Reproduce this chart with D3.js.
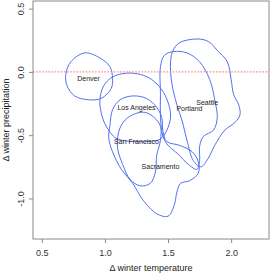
<html>
<head>
  <script src="https://d3js.org/d3.v7.min.js"></script>
  <style>
    body { margin: 0; background: #fff; }
    text { font-family: "Liberation Sans", Arial, sans-serif; }
  </style>
</head>
<body>
<svg id="chart"></svg>
<script>
  const width = 273, height = 275;

  // city names and where R put their labels
  const cities = ["Denver", "Los Angeles", "San Francisco", "Sacramento", "Portland", "Seattle"];
  const labelX = [0.87, 1.25, 1.25, 1.44, 1.67, 1.81];
  const labelY = [-0.05, -0.28, -0.55, -0.75, -0.29, -0.24];

  // contour outlines, [delta temp, delta precip]
  const denver = [[0.84,0.15],[0.96,0.11],[1.04,0.04],[1.06,-0.05],[1.05,-0.13],[0.97,-0.21],
    [0.87,-0.22],[0.76,-0.19],[0.70,-0.11],[0.69,-0.02],[0.73,0.08]];
  const losAngeles = [[1.06,-0.04],[1.17,-0.01],[1.28,-0.02],[1.37,-0.06],[1.45,-0.14],[1.50,-0.24],
    [1.52,-0.34],[1.50,-0.44],[1.44,-0.53],[1.34,-0.55],[1.22,-0.55],[1.10,-0.53],[1.06,-0.50],
    [1.00,-0.41],[0.97,-0.32],[0.96,-0.22],[0.99,-0.11]];
  const sanFrancisco = [[1.10,-0.60],[1.11,-0.47],[1.16,-0.38],[1.24,-0.33],[1.32,-0.32],[1.39,-0.36],
    [1.44,-0.43],[1.44,-0.54],[1.41,-0.66],[1.40,-0.79],[1.36,-0.88],[1.28,-0.90],[1.20,-0.85],[1.14,-0.73]];
  const sacramento = [[1.04,-0.42],[1.06,-0.30],[1.12,-0.22],[1.22,-0.19],[1.33,-0.21],[1.41,-0.28],
    [1.45,-0.36],[1.46,-0.47],[1.49,-0.55],[1.59,-0.58],[1.69,-0.63],[1.74,-0.71],[1.74,-0.80],
    [1.67,-0.86],[1.60,-0.88],[1.57,-0.95],[1.55,-1.05],[1.50,-1.14],[1.41,-1.12],[1.30,-1.01],
    [1.22,-0.88],[1.13,-0.77],[1.06,-0.63],[1.03,-0.52]];
  const portland = [[1.44,0.04],[1.47,0.13],[1.54,0.16],[1.65,0.15],[1.75,0.08],[1.83,-0.06],
    [1.87,-0.22],[1.89,-0.36],[1.86,-0.46],[1.78,-0.51],[1.75,-0.59],[1.75,-0.70],[1.73,-0.77],
    [1.66,-0.73],[1.58,-0.65],[1.50,-0.58],[1.46,-0.51],[1.44,-0.36],[1.44,-0.18]];
  const seattle = [[1.54,0.17],[1.59,0.23],[1.73,0.26],[1.82,0.24],[1.89,0.17],[1.97,0.08],
    [2.00,-0.06],[2.02,-0.18],[2.06,-0.26],[2.07,-0.34],[2.03,-0.40],[1.95,-0.46],[1.87,-0.58],
    [1.82,-0.68],[1.76,-0.75],[1.70,-0.70],[1.65,-0.54],[1.61,-0.38],[1.57,-0.26],[1.53,-0.09],[1.52,0.08]];
  const contours = [denver, losAngeles, sanFrancisco, sacramento, portland, seattle];

  const xTicks = [0.5, 1.0, 1.5, 2.0];
  const yTicks = [-1.0, -0.5, 0.0, 0.5];
  const refLine = 0;

  const margin = {left: 33, right: 4, top: 1, bottom: 36};
  const x = d3.scaleLinear().domain([0.43, 2.30]).range([margin.left, width - margin.right]);
  const y = d3.scaleLinear().domain([-1.32, 0.56]).range([height - margin.bottom, margin.top]);

  const svg = d3.select("#chart").attr("width", width).attr("height", height);
  const fmt = d => d.toFixed(1);

  // contours
  const line = d3.line().x(d => x(d[0])).y(d => y(d[1])).curve(d3.curveCatmullRomClosed.alpha(0.5));
  svg.selectAll("path.contour")
    .data(contours)
    .join("path")
    .attr("class", "contour")
    .attr("d", line)
    .attr("fill", "none")
    .attr("stroke", "#5070f5")
    .attr("stroke-width", 1);

  // dotted zero line
  svg.append("line")
    .attr("x1", x.range()[0]).attr("x2", x.range()[1])
    .attr("y1", y(refLine)).attr("y2", y(refLine))
    .attr("stroke", "#ff8a8a")
    .attr("stroke-width", 1.3)
    .attr("stroke-dasharray", "1.6,1.5");

  // city labels
  svg.selectAll("text.city")
    .data(cities)
    .join("text")
    .attr("class", "city")
    .attr("x", (d, i) => x(labelX[i]))
    .attr("y", (d, i) => y(labelY[i]))
    .attr("dy", "0.35em")
    .attr("text-anchor", "middle")
    .attr("font-size", 7)
    .attr("fill", "#222")
    .text(d => d);

  // box
  svg.append("rect")
    .attr("x", x.range()[0]).attr("y", y.range()[1])
    .attr("width", x.range()[1] - x.range()[0])
    .attr("height", y.range()[0] - y.range()[1])
    .attr("fill", "none")
    .attr("stroke", "#8a8a8a")
    .attr("stroke-width", 1);

  // axes
  const xAxis = svg.append("g")
    .attr("transform", "translate(0," + y.range()[0] + ")")
    .call(d3.axisBottom(x).tickValues(xTicks).tickFormat(fmt).tickSize(4).tickSizeOuter(0).tickPadding(7));
  const yAxis = svg.append("g")
    .attr("transform", "translate(" + x.range()[0] + ",0)")
    .call(d3.axisLeft(y).tickValues(yTicks).tickFormat(fmt).tickSize(4).tickSizeOuter(0));

  [xAxis, yAxis].forEach(g => {
    g.select(".domain").remove();
    g.selectAll("line").attr("stroke", "#8a8a8a");
    g.selectAll("text").attr("font-size", 9).attr("fill", "#333")
      .attr("font-family", "'Liberation Sans', Arial, sans-serif");
  });
  yAxis.selectAll("text")
    .attr("x", null).attr("dy", null)
    .attr("text-anchor", "middle")
    .attr("transform", "translate(-9,0) rotate(-90)");

  // axis titles
  svg.append("text")
    .attr("x", (x.range()[0] + x.range()[1]) / 2)
    .attr("y", 271)
    .attr("text-anchor", "middle")
    .attr("font-size", 9)
    .attr("fill", "#222")
    .text("Δ winter temperature");
  svg.append("text")
    .attr("transform", "translate(9," + (y.range()[0] + y.range()[1]) / 2 + ") rotate(-90)")
    .attr("text-anchor", "middle")
    .attr("font-size", 9)
    .attr("fill", "#222")
    .text("Δ winter precipitation");
</script>
</body>
</html>
